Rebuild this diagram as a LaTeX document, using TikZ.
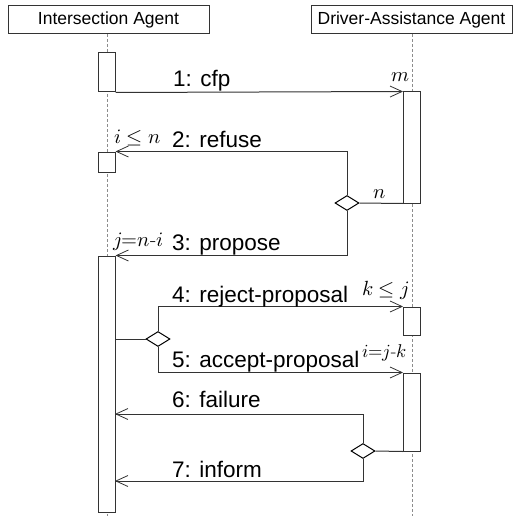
\documentclass[tikz,border=0pt]{standalone}
\usepackage{fontspec}
\usepackage{unicode-math}
\setmainfont{Liberation Sans}
\setmathfont{Latin Modern Math}
\newfontfamily\lmfont{Latin Modern Roman}
\usetikzlibrary{shapes.geometric,arrows.meta}

\tikzset{
  agent/.style={draw=black!80, line width=1pt, fill=white, minimum width=201pt,
    minimum height=28pt, inner sep=0pt, font=\fontsize{17.5}{20}\selectfont},
  lifeline/.style={draw=black!45, line width=1pt, dash pattern=on 3pt off 2pt},
  activation/.style={draw=black!80, line width=1pt, fill=white, minimum width=17pt,
    inner sep=0pt},
  branch/.style={diamond, draw=black, line width=1pt, fill=white, minimum width=24pt,
    minimum height=15pt, inner sep=0pt},
  msg/.style={draw=black!80, line width=1pt,
    -{Straight Barb[length=12pt,width=11pt,line width=0.8pt]}},
  wire/.style={draw=black!80, line width=1pt},
  msglabel/.style={anchor=base west, inner sep=0pt, font=\fontsize{22.5}{24}\selectfont},
  cond/.style={anchor=base west, inner sep=0pt, font=\fontsize{20.5}{22}\selectfont},
  condsmall/.style={cond, font=\fontsize{18.5}{20}\selectfont},
}
\newcommand{\hy}{\mbox{\lmfont -}}

\begin{document}
\begin{tikzpicture}[x=1pt, y=-1pt]
  \useasboundingbox (0,0) rectangle (513,516);

  % agents and their lifelines
  \node[agent] (ia) at (108.5,19.5) {Intersection Agent};
  \node[agent] (da) at (411.5,19.5) {Driver-Assistance Agent};
  \coordinate (iaend) at (107,516);
  \coordinate (daend) at (412,516);
  \draw[lifeline] (ia.south -| iaend) -- (iaend);
  \draw[lifeline] (da.south -| daend) -- (daend);

  % activation bars
  \node[activation, minimum height=39pt]  (ia1) at (106.5,72.5) {};
  \node[activation, minimum height=20pt]  (ia2) at (106.5,162) {};
  \node[activation, minimum height=256pt] (ia3) at (106.5,384) {};
  \node[activation, minimum height=111pt] (da1) at (412,147.5) {};
  \node[activation, minimum height=28pt]  (da2) at (412,321) {};
  \node[activation, minimum height=78pt]  (da3) at (412,412) {};

  % branch points
  \node[branch] (b1) at (347,203) {};
  \node[branch] (b2) at (158,339) {};
  \node[branch] (b3) at (363,451) {};

  % 1: cfp
  \draw[msg] (ia1.south east) -- (da1.north west);
  % 2: refuse / 3: propose
  \draw[wire] (da1.south west) -- (b1.east);
  \draw[msg] (b1.north) |- (ia2.north east);
  \draw[msg] (b1.south) |- (ia3.north east);
  % 4: reject-proposal / 5: accept-proposal
  \draw[wire] (ia3.east |- b2) -- (b2.west);
  \draw[msg] (b2.north) |- (da2.north west);
  \draw[msg] (b2.south) |- (da3.north west);
  % 6: failure / 7: inform
  \coordinate (in6) at (115,414);
  \coordinate (in7) at (115,481);
  \draw[wire] (da3.south west) -- (b3.east);
  \draw[msg] (b3.north) |- (in6);
  \draw[msg] (b3.south) |- (in7);

  % message labels
  \node[msglabel] (l1) at (173,87)  {1: cfp};
  \node[msglabel] (l2) at (172,147) {2: refuse};
  \node[msglabel] (l3) at (172,250) {3: propose};
  \node[msglabel] (l4) at (172,302) {4: reject-proposal};
  \node[msglabel] (l5) at (172,367) {5: accept-proposal};
  \node[msglabel] (l6) at (172,407) {6: failure};
  \node[msglabel] (l7) at (172,477) {7: inform};

  % multiplicities and conditions
  \node[cond] (cm)  at (391,82)  {$m$};
  \node[cond] (cn)  at (373,198) {$n$};
  \node[cond] (c2)  at (114,143) {$i\leq n$};
  \node[cond] (c3)  at (113,246) {$j{=}n$\hy$i$};
  \node[cond] (c4)  at (362,295) {$k\leq j$};
  \node[condsmall] (c5)  at (362,357) {$i{=}j$\hy$k$};
\end{tikzpicture}
\end{document}
